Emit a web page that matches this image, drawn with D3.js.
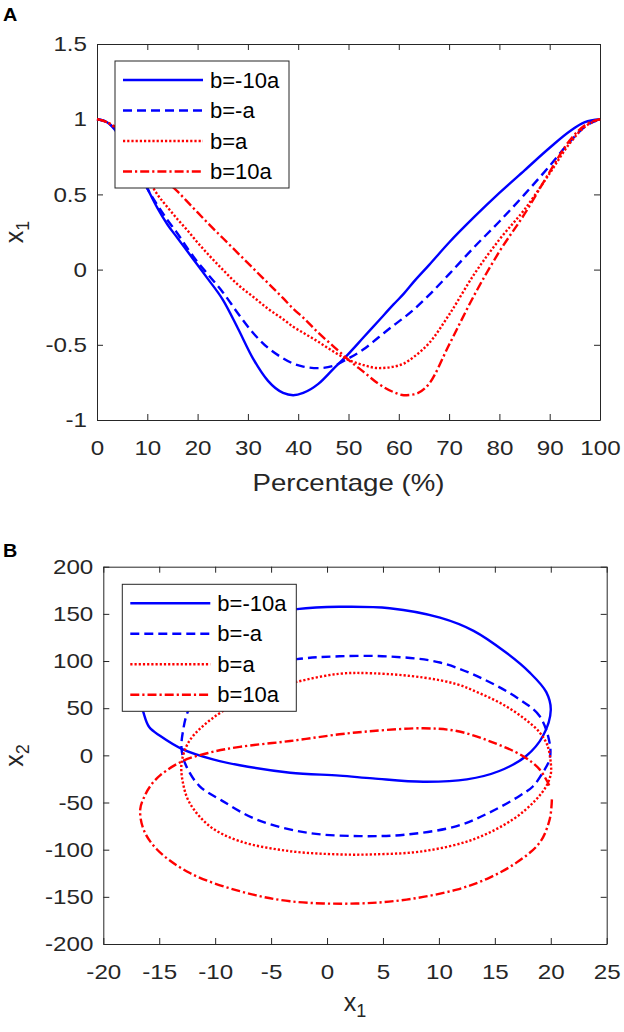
<!DOCTYPE html>
<html>
<head>
<meta charset="utf-8">
<script src="https://cdn.jsdelivr.net/npm/d3@7"></script>
<style>
  body { margin: 0; background: #fff; }
  svg { display: block; }
</style>
</head>
<body>
<div id="chart"></div>
<script>
// ---------- data ----------
const seriesNames = ["b=-10a", "b=-a", "b=a", "b=10a"];

// panel A: x1 against percentage of the cycle
const pct = [0, 2, 4, 6, 8, 10, 12, 14, 16, 18, 20, 22, 25, 28, 31, 34, 37, 39, 41, 44,
             47, 50, 53, 56, 59, 61, 63, 66, 70, 75, 80, 85, 90, 94, 97, 100];
const x1Neg10a = [1, 0.98, 0.91, 0.80, 0.67, 0.54, 0.41, 0.30, 0.21, 0.12, 0.03, -0.06, -0.20, -0.39, -0.59, -0.74, -0.82, -0.835, -0.82, -0.76,
                  -0.66, -0.56, -0.45, -0.34, -0.23, -0.16, -0.08, 0.03, 0.18, 0.35, 0.51, 0.66, 0.81, 0.92, 0.98, 1];
const x1NegA = [1, 0.98, 0.92, 0.82, 0.68, 0.54, 0.43, 0.33, 0.24, 0.14, 0.05, -0.03, -0.15, -0.29, -0.42, -0.52, -0.59, -0.625, -0.645, -0.655,
                -0.64, -0.59, -0.53, -0.45, -0.37, -0.32, -0.265, -0.17, -0.03, 0.15, 0.32, 0.50, 0.69, 0.85, 0.95, 1];
const x1PosA = [1, 0.98, 0.93, 0.85, 0.74, 0.61, 0.50, 0.415, 0.335, 0.26, 0.18, 0.105, 0, -0.10, -0.18, -0.26, -0.33, -0.38, -0.42, -0.48,
                -0.545, -0.60, -0.635, -0.655, -0.645, -0.625, -0.58, -0.49, -0.30, -0.03, 0.20, 0.40, 0.64, 0.84, 0.95, 1];
const x1Pos10a = [1, 0.98, 0.94, 0.87, 0.79, 0.71, 0.64, 0.58, 0.52, 0.45, 0.38, 0.31, 0.21, 0.11, 0.01, -0.09, -0.19, -0.26, -0.32, -0.42,
                  -0.51, -0.60, -0.68, -0.76, -0.815, -0.835, -0.83, -0.76, -0.50, -0.17, 0.12, 0.37, 0.65, 0.86, 0.96, 1];

const pctTicks = [0, 10, 20, 30, 40, 50, 60, 70, 80, 90, 100];
const x1TicksA = [-1, -0.5, 0, 0.5, 1, 1.5];

// panel B: phase portrait (x1, x2)
const loopNeg10aX = [20.0, 19.6, 18.1, 16.0, 13.1, 10.1, 5.6, 1.1, -2.7, -7.8, -12.3, -15.2, -16.4, -16.65,
                     -16.4, -15.9, -14.9, -12.9, -10.2, -7.8, -3.3, 1.1, 4.1, 8.6, 12.5, 15.4, 17.8, 19.3];
const loopNeg10aY = [48, 67, 88, 109, 132, 146, 156, 157.5, 155, 144, 124.5, 100, 79, 58,
                     45, 30, 20.5, 6.4, -4.2, -10.5, -18.4, -21.5, -24.4, -28, -25.5, -16.6, -0.7, 20.5];
const loopNegAX = [19.9, 19.0, 17.2, 14.0, 10.1, 5.6, 1.1, -2.7, -7.8, -10.5, -12.3, -12.9, -13.0,
                   -12.6, -11.4, -9.4, -6.3, -1.8, 2.9, 7.1, 11.6, 14.5, 17.2, 18.4, 19.3, 19.9];
const loopNegAY = [13, 41.7, 59.4, 80.7, 98.4, 104.8, 105, 102, 91, 75, 50, 24, 6,
                   -11, -32.6, -48, -68, -82, -85.6, -84, -75, -60.8, -43, -33, -18, -4];
const loopPosAX = [20.0, 19.7, 19.0, 17.6, 15.7, 13.65, 11.6, 8.6, 4.1, 1.1, -2.7, -6.3, -9.3, -11.1, -12.4,
                   -13.0, -12.9, -12.3, -10.5, -7.8, -3.3, 1.1, 4.1, 8.6, 13.1, 16.6, 18.6, 19.6, 20.0];
const loopPosAY = [-8, 10.6, 24.4, 39.3, 54.1, 65.8, 75.4, 82.5, 87, 86.5, 78, 66.6, 47, 31, 13.5,
                   -8, -28, -50, -75, -91, -101.6, -105, -105, -101.6, -89, -68, -48, -32.6, -20];
const loopPos10aX = [20.1, 19.9, 19.0, 16.9, 14.5, 11.6, 7.1, 2.6, -3.3, -7.8, -12.3, -15.2, -16.4, -16.7, -16.3,
                     -15.8, -14.9, -12.9, -10.5, -7.8, -3.3, 1.1, 4.1, 8.6, 11.6, 14.5, 17.5, 19.0, 19.9];
const loopPos10aY = [-46.7, -68, -92.7, -114, -129.8, -142.3, -152.9, -157.1, -154.7, -144, -124.5, -99.8, -78.6, -57.3, -43,
                     -32.6, -21, -6, 2.9, 9, 15.2, 22.3, 25.8, 28.7, 25.8, 15.2, -0.7, -14.9, -32.6];

const x1TicksB = [-20, -15, -10, -5, 0, 5, 10, 15, 20, 25];
const x2TicksB = [-200, -150, -100, -50, 0, 50, 100, 150, 200];

// ---------- styles ----------
const FONT = '"Liberation Sans", Arial, sans-serif';
const INK = "#262626";
const LW = 2.4;
const lineColor = ["#0000ff", "#0000ff", "#ff0000", "#ff0000"];
const lineDash = [null, "9,5", "2.2,2", "9,3,2.2,3"];
const STRETCH = 1.15; // glyphs in the figure are wider than plain Arial

const svg = d3.select("#chart").append("svg")
              .attr("width", 624)
              .attr("height", 1032)
              .style("background-color", "white");

// scales
const xA = d3.scaleLinear().domain([0, 100]).range([97, 600]);
const yA = d3.scaleLinear().domain([-1, 1.5]).range([420, 44]);
const xB = d3.scaleLinear().domain([-20, 25]).range([103.3, 606.7]);
const yB = d3.scaleLinear().domain([-200, 200]).range([944, 566.7]);

function widen(sel, k) {
   sel.each(function() {
      const w = this.getComputedTextLength();
      if (w > 0) {
         this.setAttribute("textLength", w * k);
         this.setAttribute("lengthAdjust", "spacingAndGlyphs");
      }
   });
}

// box with inward ticks on all four sides
function drawFrame(x, y, xt, yt) {
   const [l, r] = x.range();
   const [b, t] = y.range();
   const g = svg.append("g");
   g.append("g").attr("transform", `translate(0,${b})`)
    .call(d3.axisBottom(x).tickValues(xt).tickSize(-6).tickSizeOuter(0).tickPadding(20).tickFormat(d => String(d)));
   g.append("g").attr("transform", `translate(0,${t})`)
    .call(d3.axisTop(x).tickValues(xt).tickSize(-6).tickSizeOuter(0).tickFormat(""));
   g.append("g").attr("transform", `translate(${l},0)`)
    .call(d3.axisLeft(y).tickValues(yt).tickSize(-6).tickSizeOuter(0).tickPadding(10).tickFormat(d => String(d)));
   g.append("g").attr("transform", `translate(${r},0)`)
    .call(d3.axisRight(y).tickValues(yt).tickSize(-6).tickSizeOuter(0).tickFormat(""));
   g.selectAll("g").attr("font-family", FONT).attr("font-size", 21);
   g.selectAll(".domain, .tick line").attr("stroke", INK).attr("stroke-width", 1);
   g.selectAll(".tick text").attr("fill", INK);
   widen(g.selectAll(".tick text"), STRETCH);
   return g;
}

function drawLegend(x0, y0) {
   const leg = svg.append("g").attr("transform", `translate(${x0},${y0})`);
   leg.append("rect")
      .attr("width", 174).attr("height", 127)
      .attr("fill", "white").attr("stroke", INK).attr("stroke-width", 1);
   seriesNames.forEach((name, i) => {
      const cy = 19 + i * 30.5;
      leg.append("line")
         .attr("x1", 8).attr("x2", 88).attr("y1", cy).attr("y2", cy)
         .attr("stroke", lineColor[i]).attr("stroke-width", LW)
         .attr("stroke-dasharray", lineDash[i]);
      leg.append("text")
         .attr("x", 95).attr("y", cy + 7.5)
         .attr("font-family", FONT).attr("font-size", 22)
         .attr("fill", "#000")
         .text(name);
   });
}

function subLabel(x, y, main, sub, rotate) {
   const t = svg.append("text")
      .attr("transform", `translate(${x},${y})` + (rotate ? " rotate(-90)" : ""))
      .attr("text-anchor", "middle")
      .attr("font-family", FONT)
      .attr("fill", INK);
   t.append("tspan").attr("font-size", 25).text(main);
   t.append("tspan").attr("font-size", 18).attr("dy", 6).text(sub);
}

function panelLetter(y, letter) {
   const t = svg.append("text")
      .attr("x", 3).attr("y", y)
      .attr("font-family", FONT).attr("font-size", 18).attr("font-weight", "bold")
      .attr("fill", "#000")
      .text(letter);
   widen(t, 1.1);
}

// ---------- panel A ----------
drawFrame(xA, yA, pctTicks, x1TicksA);

const seriesA = [x1Neg10a, x1NegA, x1PosA, x1Pos10a];
const lineA = d3.line()
                .x((d, i) => xA(pct[i]))
                .y(d => yA(d))
                .curve(d3.curveMonotoneX);
seriesA.forEach((vals, i) => {
   svg.append("path")
      .attr("d", lineA(vals))
      .attr("fill", "none")
      .attr("stroke", lineColor[i])
      .attr("stroke-width", LW)
      .attr("stroke-dasharray", lineDash[i]);
});

drawLegend(115, 61);

const pLabel = svg.append("text")
   .attr("x", 348.5).attr("y", 491)
   .attr("text-anchor", "middle")
   .attr("font-family", FONT).attr("font-size", 24)
   .attr("fill", INK)
   .text("Percentage (%)");
widen(pLabel, STRETCH);
subLabel(23, 232, "x", "1", true);
panelLetter(21, "A");

// ---------- panel B ----------
drawFrame(xB, yB, x1TicksB, x2TicksB);

const loopsB = [
   [loopNeg10aX, loopNeg10aY, true],
   [loopNegAX, loopNegAY, true],
   [loopPosAX, loopPosAY, true],
   [loopPos10aX, loopPos10aY, false]
];
loopsB.forEach(([xs, ys, closed], i) => {
   const line = d3.line()
                  .x(d => xB(d[0]))
                  .y(d => yB(d[1]))
                  .curve(closed ? d3.curveCatmullRomClosed.alpha(0.5) : d3.curveCatmullRom.alpha(0.5));
   svg.append("path")
      .attr("d", line(d3.zip(xs, ys)))
      .attr("fill", "none")
      .attr("stroke", lineColor[i])
      .attr("stroke-width", LW)
      .attr("stroke-dasharray", lineDash[i]);
});

drawLegend(122.3, 584.3);

subLabel(355, 1011, "x", "1", false);
subLabel(23, 755.5, "x", "2", true);
panelLetter(557, "B");
</script>
</body>
</html>
